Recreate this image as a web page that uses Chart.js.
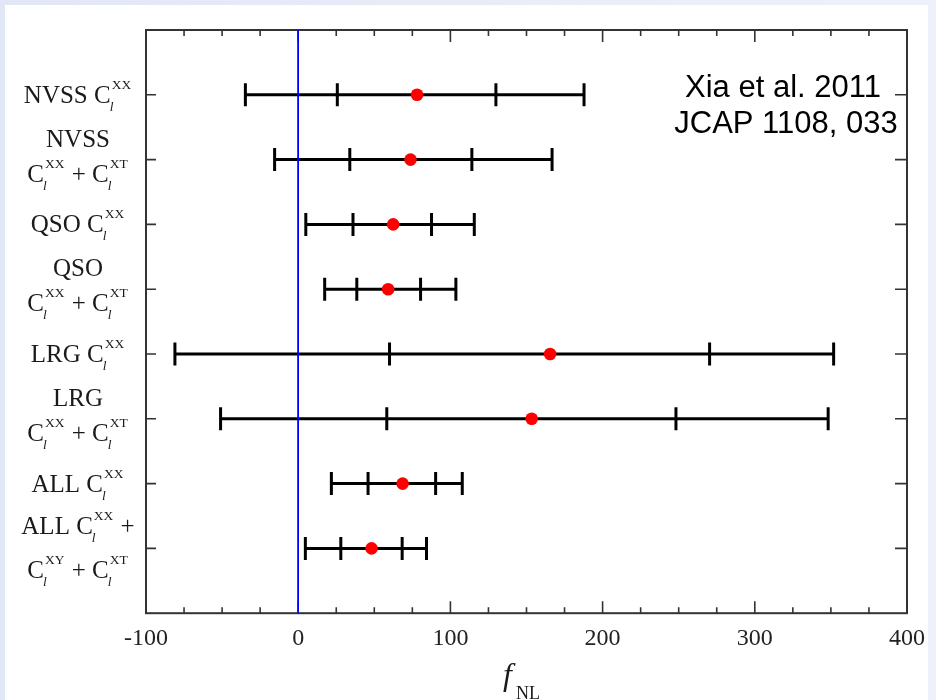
<!DOCTYPE html>
<html><head><meta charset="utf-8">
<script src="https://cdn.jsdelivr.net/npm/chart.js@4.4.1/dist/chart.umd.min.js"></script>
<style>html,body{margin:0;padding:0;background:#e3e8f5;}canvas{display:block}</style>
</head><body>
<canvas id="c" width="936" height="700"></canvas>
<script>
// ---- data ----
const rowLabels = [
  ["NVSS C_{l}^{XX}"],
  ["NVSS", "C_{l}^{XX} + C_{l}^{XT}"],
  ["QSO C_{l}^{XX}"],
  ["QSO", "C_{l}^{XX} + C_{l}^{XT}"],
  ["LRG C_{l}^{XX}"],
  ["LRG", "C_{l}^{XX} + C_{l}^{XT}"],
  ["ALL C_{l}^{XX}"],
  ["ALL C_{l}^{XX} +", "C_{l}^{XY} + C_{l}^{XT}"]
];
const fnlCentral = [78.1, 73.8, 62.4, 59.1, 165.5, 153.4, 68.6, 48.2];
const fnlLo2 = [-34.7, -15.5, 5.0, 17.4, -81.0, -51.0, 21.8, 4.7];
const fnlLo1 = [25.7, 33.9, 36.0, 38.5, 60.0, 58.2, 45.9, 28.0];
const fnlHi1 = [129.9, 114.1, 87.6, 80.4, 270.3, 248.2, 90.3, 68.3];
const fnlHi2 = [187.8, 166.8, 115.7, 103.6, 351.8, 348.2, 107.8, 84.3];
const xTickValues = [-100, 0, 100, 200, 300, 400];
const annotationLines = ["Xia et al. 2011", "JCAP 1108, 033"];
const xTitle = {main: "f", sub: "NL"};

// ---- build datasets ----
const rows = rowLabels.map((_, i) => i + 1);
const barLines = rows.map((y, i) => ({
  data: [{x: fnlLo2[i], y}, {x: fnlHi2[i], y}],
  showLine: true, borderColor: '#000', borderWidth: 3, pointRadius: 0, order: 3
}));
const capPoints = [];
rows.forEach((y, i) => {
  [fnlLo2[i], fnlLo1[i], fnlHi1[i], fnlHi2[i]].forEach(x => capPoints.push({x, y}));
});
const datasets = [
  {data: rows.map((y, i) => ({x: fnlCentral[i], y})), pointRadius: 6.3, pointBackgroundColor: '#ff0000',
   pointBorderWidth: 0, borderColor: '#ff0000', order: 0},
  {data: capPoints, pointStyle: 'line', rotation: 90, pointRadius: 11.5, borderColor: '#000',
   pointBorderWidth: 3, borderWidth: 3, order: 1},
  {data: [{x: 0, y: 0}, {x: 0, y: 9}], showLine: true, borderColor: '#0000ff', borderWidth: 1.5,
   pointRadius: 0, order: 2},
  ...barLines
];

const SERIF = '"Liberation Serif", "Times New Roman", serif';

function parseLine(s) {
  const parts = s.split(/(_\{[^}]*\}|\^\{[^}]*\})/).filter(p => p.length);
  const toks = [];
  parts.forEach(p => {
    if (p.startsWith('_{')) toks.push({t: 'sub', s: p.slice(2, -1)});
    else if (p.startsWith('^{')) toks.push({t: 'sup', s: p.slice(2, -1)});
    else toks.push({t: 'text', s: p});
  });
  const groups = [];
  toks.forEach(tk => {
    if (tk.t === 'text') groups.push({t: 'text', s: tk.s});
    else {
      const last = groups[groups.length - 1];
      if (last && last.t === 'script') last[tk.t] = tk.s;
      else groups.push({t: 'script', [tk.t]: tk.s});
    }
  });
  return groups;
}
const MAIN = '25px ' + SERIF, SUPF = '13.5px ' + SERIF, SUBF = 'italic 13.5px ' + SERIF;
function lineWidth(ctx, groups) {
  let w = 0;
  groups.forEach(g => {
    if (g.t === 'text') { ctx.font = MAIN; w += ctx.measureText(g.s).width; }
    else {
      ctx.font = SUPF; const a = g.sup ? ctx.measureText(g.sup).width + 1 : 0;
      ctx.font = SUBF; const b = g.sub ? ctx.measureText(g.sub).width : 0;
      w += Math.max(a, b) + 1;
    }
  });
  return w;
}
function drawLine(ctx, groups, cx, base) {
  let x = cx - lineWidth(ctx, groups) / 2;
  ctx.textAlign = 'left'; ctx.textBaseline = 'alphabetic';
  groups.forEach(g => {
    if (g.t === 'text') { ctx.font = MAIN; ctx.fillText(g.s, x, base); x += ctx.measureText(g.s).width; }
    else {
      let a = 0, b = 0;
      if (g.sup) { ctx.font = SUPF; ctx.fillText(g.sup, x + 1, base - 14); a = ctx.measureText(g.sup).width + 1; }
      if (g.sub) { ctx.font = SUBF; ctx.fillText(g.sub, x - 1, base + 8); b = ctx.measureText(g.sub).width; }
      x += Math.max(a, b) + 1;
    }
  });
}

const decor = {
  id: 'decor',
  beforeDraw(chart) {
    const ctx = chart.ctx;
    const g = ctx.createLinearGradient(0, 0, 936, 0);
    g.addColorStop(0, '#e2e7f5'); g.addColorStop(1, '#eef1f9');
    ctx.save();
    ctx.fillStyle = g; ctx.fillRect(0, 0, 936, 700);
    ctx.fillStyle = '#ffffff'; ctx.fillRect(5, 5, 923, 695);
    ctx.restore();
  },
  afterDraw(chart) {
    const ctx = chart.ctx, a = chart.chartArea;
    const xs = chart.scales.x, ys = chart.scales.y;
    ctx.save();
    ctx.strokeStyle = '#333'; ctx.lineWidth = 2;
    ctx.strokeRect(a.left, a.top, a.right - a.left, a.bottom - a.top);
    ctx.lineWidth = 1.6;
    ctx.beginPath();
    for (let v = xs.min; v <= xs.max; v += 25) {
      const px = xs.getPixelForValue(v);
      const len = (v % 100 === 0) ? 12 : 6;
      ctx.moveTo(px, a.bottom); ctx.lineTo(px, a.bottom - len);
      ctx.moveTo(px, a.top); ctx.lineTo(px, a.top + len);
    }
    rows.forEach(r => {
      const py = ys.getPixelForValue(r);
      ctx.moveTo(a.left, py); ctx.lineTo(a.left + 10, py);
      ctx.moveTo(a.right, py); ctx.lineTo(a.right - 12, py);
    });
    ctx.stroke();
    const z = xs.getPixelForValue(0);
    ctx.strokeStyle = '#0000ff'; ctx.lineWidth = 1.5;
    ctx.beginPath(); ctx.moveTo(z, a.top); ctx.lineTo(z, a.bottom); ctx.stroke();

    // y labels
    ctx.fillStyle = '#1a1a1a';
    rowLabels.forEach((lines, i) => {
      const py = ys.getPixelForValue(rows[i]);
      const parsed = lines.map(parseLine);
      const metrics = parsed.map(gs => ({
        asc: gs.some(g => g.t === 'script' && g.sup) ? 23 : 16,
        desc: gs.some(g => g.t === 'script' && g.sub) ? 10 : 1
      }));
      const bases = [0];
      for (let k = 1; k < parsed.length; k++) bases.push(bases[k - 1] + metrics[k - 1].desc + 11 + metrics[k].asc);
      const top = bases[0] - metrics[0].asc;
      const bot = bases[bases.length - 1] + metrics[metrics.length - 1].desc;
      const shift = py + 1.5 - (top + bot) / 2;
      parsed.forEach((gs, k) => drawLine(ctx, gs, 78, bases[k] + shift));
    });

    // annotation
    ctx.fillStyle = '#000';
    ctx.font = '31px "Liberation Sans", Arial, sans-serif';
    ctx.textAlign = 'center'; ctx.textBaseline = 'alphabetic';
    ctx.fillText(annotationLines[0], 783, 97);
    ctx.fillText(annotationLines[1], 786, 133);

    // x title
    ctx.fillStyle = '#1a1a1a';
    ctx.textAlign = 'left';
    ctx.font = 'italic 32px ' + SERIF;
    ctx.fillText(xTitle.main, 503, 685);
    ctx.font = '18px ' + SERIF;
    ctx.fillText(xTitle.sub, 516, 699);
    ctx.restore();
  }
};

new Chart(document.getElementById('c'), {
  type: 'scatter',
  data: {datasets},
  options: {
    responsive: false, animation: false, events: [],
    layout: {padding: {left: 146, right: 29, top: 30, bottom: 44}},
    plugins: {legend: {display: false}, tooltip: {enabled: false}},
    scales: {
      x: {
        type: 'linear', min: -100, max: 400,
        afterBuildTicks: s => { s.ticks = xTickValues.map(v => ({value: v})); },
        grid: {display: false}, border: {display: false},
        ticks: {padding: 3, color: '#222', font: {family: SERIF, size: 24}, callback: v => String(v)}
      },
      y: {type: 'linear', min: 0, max: 9, reverse: true, display: false}
    }
  },
  plugins: [decor]
});
</script>
</body></html>
